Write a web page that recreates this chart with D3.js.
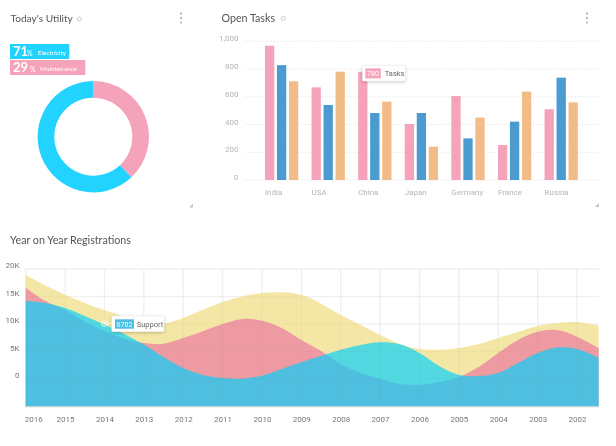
<!DOCTYPE html>
<html>
<head>
<meta charset="utf-8">
<script src="https://d3js.org/d3.v7.min.js"></script>
<style>
  html, body { margin: 0; background: #fff; overflow: hidden; }
  svg { display: block; filter: blur(0.45px); }
  .title { font: 10.7px Lato, sans-serif; fill: #555; }
  .barAxis text { font: 8px Roboto, sans-serif; fill: #b5b5b5; }
  .regAxis text { font: 8px Roboto, sans-serif; fill: #777; }
  .axis path, .axis line { display: none; }
  .tip { fill: #fff; stroke: #eee; stroke-width: 0.5; filter: drop-shadow(0 1px 1.5px rgba(0,0,0,.22)); }
</style>
</head>
<body>
<svg id="chart" width="616" height="446"></svg>
<script>
// donut
var utilityNames = ['Electricity', 'Maintenance'];
var utilityLabels = [71, 29];
var utilityShares = [62, 38]; // what the ring actually shows, not the legend numbers

// bars
var countries = ['India', 'USA', 'China', 'Japan', 'Germany', 'France', 'Russia'];
var taskSeries = ['a', 'b', 'c'];
var tasksA = [968, 668, 780, 404, 606, 252, 510];
var tasksB = [828, 541, 483, 483, 300, 421, 738];
var tasksC = [712, 781, 565, 240, 450, 637, 560];
var taskTicks = [0, 200, 400, 600, 800, 1000];

// areas
var regTicks = [0, 5000, 10000, 15000, 20000];
var yearLabels = [2016, 2015, 2014, 2013, 2012, 2011, 2010, 2009, 2008, 2007, 2006, 2005, 2004, 2003, 2002];
var regYears = [2016, 2015.5, 2015, 2014.5, 2014, 2013.5, 2013, 2012.5, 2012, 2011.5, 2011, 2010.5, 2010, 2009.5, 2009,
  2008.5, 2008, 2007.5, 2007, 2006.5, 2006, 2005.5, 2005, 2004.5, 2004, 2003.5, 2003, 2002.5, 2002, 2001.45];
var regYellow = [18900, 17000, 15300, 13800, 12500, 11400, 10400, 10100, 11100, 12600, 14000, 15000, 15640, 15760, 15300,
  13700, 11640, 9820, 8000, 6360, 5450, 5330, 5640, 6360, 7450, 8550, 9640, 10180, 10360, 9710];
var regRed = [16600, 14180, 12550, 10450, 8730, 7360, 6550, 6420, 7450, 8700, 10000, 10910, 10600, 9270, 7090,
  5090, 2730, 1090, 0, -910, -1090, -550, 360, 2180, 4730, 7090, 8600, 8910, 7690, 5640];
var regSupport = [14180, 13820, 12910, 11450, 9910, 8200, 6270, 4000, 2000, 730, 180, 50, 600, 1820, 3040,
  4180, 5300, 6180, 6670, 6310, 4730, 2360, 730, 550, 1090, 2910, 4730, 5730, 5450, 3870];

var svg = d3.select('#chart');
var pink = '#f5a3ba';
var cyan = '#22d3ff';

function addTitle(text, x, y, size) {
  svg.append('text').attr('class', 'title').attr('x', x).attr('y', y)
    .style('font-size', size + 'px').text(text);
}
function addRing(x, y) {
  svg.append('circle').attr('cx', x).attr('cy', y).attr('r', 2)
    .attr('fill', 'none').attr('stroke', '#b5b5b5').attr('stroke-width', 0.7);
}
function addDots(x) {
  svg.selectAll(null).data([13.5, 18, 22.5]).enter().append('circle')
    .attr('cx', x).attr('cy', function (d) { return d }).attr('r', 0.9).attr('fill', '#999');
}
function addGrip(x, y) {
  svg.append('path').attr('d', 'M' + x + ' ' + y + 'l4 -4v4z').attr('fill', '#c4c4c4');
}

addTitle("Today's Utility", 10.5, 22, 10.1);
addRing(79.3, 19);
addDots(181);
addGrip(189, 207.5);
addTitle('Open Tasks', 221.5, 22, 10.7);
addRing(283.3, 18.5);
addDots(587);
addGrip(595, 207);
addTitle('Year on Year Registrations', 10, 244, 10.7);

// ---- donut
var pie = d3.pie().sort(null);
var arc = d3.arc().innerRadius(39).outerRadius(55.7);
var donut = svg.append('g').attr('transform', 'translate(93.3,136.7)');
var sliceColors = [cyan, pink];

// ring goes clockwise from 12 with the pink slice first
donut.selectAll('path')
  .data(pie(utilityShares.slice().reverse()))
  .enter()
  .append('path')
  .attr('d', arc)
  .attr('fill', function (d, i) { return sliceColors[1 - i] });

var chipWidths = [59.3, 75.3];
var chipY = [44, 60];
var nameX = [37.7, 40];
utilityNames.forEach(function (name, i) {
  var g = svg.append('g').attr('transform', 'translate(10,' + chipY[i] + ')');
  g.append('rect').attr('width', chipWidths[i]).attr('height', 15).attr('fill', sliceColors[i]);
  g.append('text').attr('x', 3).attr('y', 12).attr('fill', '#fff')
    .style('font', '700 13px Lato, sans-serif').text(utilityLabels[i]);
  g.append('text').attr('x', 17 + i * 3).attr('y', 12).attr('fill', '#fff')
    .style('font', '7px Lato, sans-serif').text('%');
  g.append('text').attr('x', nameX[i] - 10).attr('y', 10.5).attr('fill', '#fff')
    .style('font', '6.5px Lato, sans-serif').text(name);
});

// ---- bars
var yTasks = d3.scaleLinear().domain([0, 1000]).range([180, 41.3]);
var xGroup = d3.scaleBand().domain(countries).range([258.3, 584.5]).paddingInner(0.285).paddingOuter(0.1425);
var xBar = d3.scaleBand().domain(taskSeries).range([0, xGroup.bandwidth()]).paddingInner(0.225);
var barColors = { a: pink, b: '#4c9bd0', c: '#f2bc88' };
var barValues = { a: tasksA, b: tasksB, c: tasksC };

svg.append('g').selectAll('line').data(taskTicks).enter().append('line')
  .attr('x1', 245).attr('x2', 599)
  .attr('y1', function (d) { return yTasks(d) }).attr('y2', function (d) { return yTasks(d) })
  .attr('stroke', '#e6e6e6').attr('stroke-width', 0.8).attr('stroke-dasharray', '2,1.5');

var yAxisTasks = d3.axisLeft(yTasks).tickValues(taskTicks).tickSize(0).tickPadding(0).tickFormat(d3.format(','));
var barAxisY = svg.append('g').attr('class', 'axis barAxis').attr('transform', 'translate(238.5,0)').call(yAxisTasks);
barAxisY.selectAll('text').attr('dy', 0).attr('y', -0.5);

var xAxisTasks = d3.axisBottom(xGroup).tickSize(0).tickPadding(0);
var barAxisX = svg.append('g').attr('class', 'axis barAxis').attr('transform', 'translate(0,194.5)').call(xAxisTasks);
barAxisX.selectAll('text').attr('text-anchor', 'start').attr('dy', 0).attr('y', 0)
  .attr('x', -xGroup.bandwidth() / 2);

taskSeries.forEach(function (s) {
  svg.append('g').selectAll('rect')
    .data(barValues[s])
    .enter()
    .append('rect')
    .attr('x', function (d, i) { return xGroup(countries[i]) + xBar(s) })
    .attr('y', function (d) { return yTasks(d) })
    .attr('width', xBar.bandwidth())
    .attr('height', function (d) { return yTasks(0) - yTasks(d) })
    .attr('fill', barColors[s]);
});

// tasks tooltip
var tip1 = svg.append('g').attr('transform', 'translate(362.3,65.7)');
tip1.append('rect').attr('class', 'tip').attr('width', 43).attr('height', 15.3).attr('rx', 1);
tip1.append('rect').attr('x', 3).attr('y', 2.7).attr('width', 15.5).attr('height', 10).attr('fill', pink);
tip1.append('text').attr('x', 10.7).attr('y', 10.2).attr('text-anchor', 'middle').attr('fill', '#fff')
  .style('font', '7px Roboto, sans-serif').text(tasksA[2]);
tip1.append('text').attr('x', 22.5).attr('y', 10.5).attr('fill', '#666')
  .style('font', '7.5px Roboto, sans-serif').text('Tasks');

// ---- areas
var xReg = d3.scaleLinear().domain([2016, 2002]).range([25.7, 577]);
var yReg = d3.scaleLinear().domain([-5000, 20000]).range([406.5, 269]);

function gridLines(color, w) {
  var g = svg.append('g').attr('stroke', color).attr('stroke-width', w);
  g.selectAll('.h').data(regTicks).enter().append('line').attr('class', 'h')
    .attr('x1', 25).attr('x2', 599)
    .attr('y1', function (d) { return yReg(d) }).attr('y2', function (d) { return yReg(d) });
  g.selectAll('.v').data(yearLabels).enter().append('line').attr('class', 'v')
    .attr('x1', function (d) { return xReg(d) }).attr('x2', function (d) { return xReg(d) })
    .attr('y1', 269).attr('y2', 407);
}
gridLines('#f5f5f5', 1.4);

function addArea(values, color, opacity) {
  var area = d3.area()
    .x(function (d, i) { return xReg(regYears[i]) })
    .y0(yReg(-5000))
    .y1(function (d) { return yReg(d) })
    .curve(d3.curveCatmullRom.alpha(0.5));
  svg.append('path').datum(values).attr('d', area).attr('fill', color).attr('fill-opacity', opacity);
}
addArea(regYellow, '#f4e6a4', 1);
addArea(regRed, '#ee9aa2', 1);
addArea(regSupport, '#00d1ff', 0.67);

gridLines('rgba(110,110,110,0.04)', 1.2);
svg.append('line').attr('x1', 25).attr('x2', 599).attr('y1', 407).attr('y2', 407)
  .attr('stroke', '#dfe3e6').attr('stroke-width', 1);

var yAxisReg = d3.axisLeft(yReg).tickValues(regTicks).tickSize(0).tickPadding(0)
  .tickFormat(function (d) { return d === 0 ? '0' : d / 1000 + 'K' });
var regAxisY = svg.append('g').attr('class', 'axis regAxis').attr('transform', 'translate(19.5,0)').call(yAxisReg);
regAxisY.selectAll('text').attr('dy', 0).attr('y', -1.5);

var xAxisReg = d3.axisBottom(xReg).tickValues(yearLabels).tickSize(0).tickPadding(0).tickFormat(d3.format('d'));
var regAxisX = svg.append('g').attr('class', 'axis regAxis').attr('transform', 'translate(0,422)').call(xAxisReg);
regAxisX.selectAll('text').attr('dy', 0).attr('y', 0)
  .attr('x', function (d) { return d === 2016 ? 7.6 : 0 });

// support tooltip
var markX = xReg(2014), markY = 323.3;
svg.append('line').attr('x1', markX + 3).attr('x2', 112).attr('y1', markY).attr('y2', markY)
  .attr('stroke', '#fff').attr('stroke-width', 0.8);
svg.append('circle').attr('cx', markX).attr('cy', markY).attr('r', 3)
  .attr('fill', 'none').attr('stroke', '#fff').attr('stroke-width', 0.8);
svg.append('circle').attr('cx', markX).attr('cy', markY).attr('r', 1.2).attr('fill', '#fff');
var tip2 = svg.append('g').attr('transform', 'translate(111.7,316)');
tip2.append('rect').attr('class', 'tip').attr('width', 52.3).attr('height', 15.7).attr('rx', 1);
tip2.append('rect').attr('x', 3.3).attr('y', 3.3).attr('width', 19).attr('height', 9.4).attr('fill', '#4bbfe4');
tip2.append('text').attr('x', 12.8).attr('y', 10.5).attr('text-anchor', 'middle').attr('fill', '#fff')
  .style('font', '7px Roboto, sans-serif').text('6702');
tip2.append('text').attr('x', 25).attr('y', 10.7).attr('fill', '#666')
  .style('font', '7.5px Roboto, sans-serif').text('Support');
</script>
</body>
</html>
